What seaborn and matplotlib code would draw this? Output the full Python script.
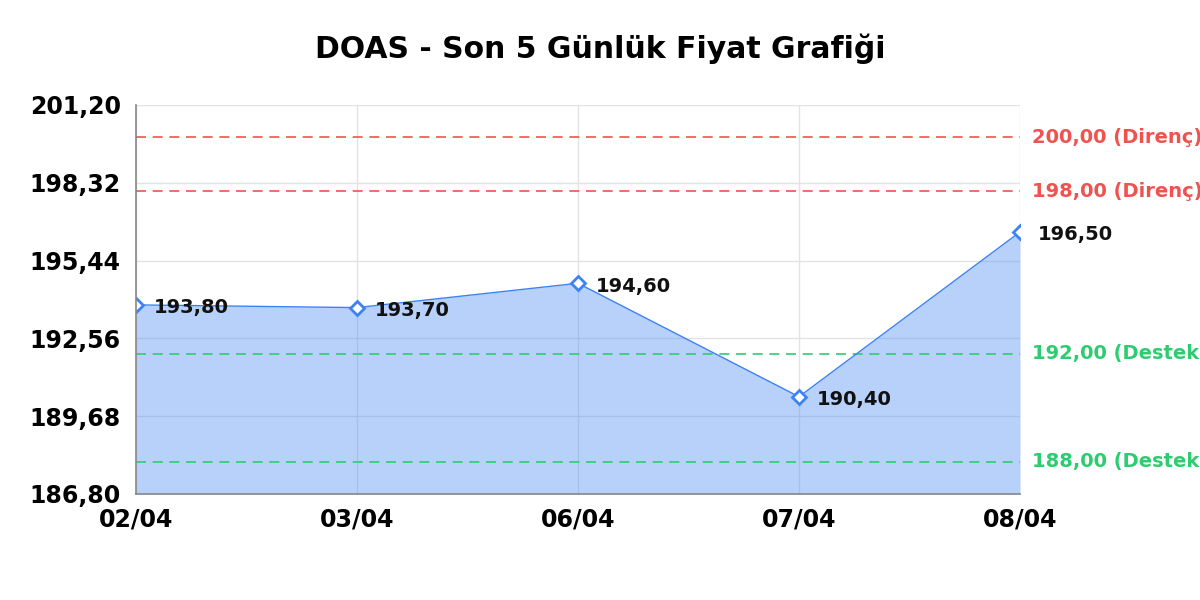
import matplotlib
matplotlib.use("Agg")
import matplotlib.pyplot as plt
import seaborn as sns
import pandas as pd
import numpy as np

dates = ["02/04", "03/04", "06/04", "07/04", "08/04"]
prices = [193.80, 193.70, 194.60, 190.40, 196.50]
resistance = [200.00, 198.00]
support = [192.00, 188.00]
y_ticks = [186.80, 189.68, 192.56, 195.44, 198.32, 201.20]
title = "DOAS - Son 5 Günlük Fiyat Grafiği"

sns.set_theme(style="white")
plt.rcParams['font.family'] = ['DejaVu Sans']
plt.rcParams['text.color'] = 'black'
plt.rcParams['xtick.color'] = 'black'
plt.rcParams['ytick.color'] = 'black'

def fmt(v):
    return f"{v:.2f}".replace(".", ",")

df = pd.DataFrame({"pos": np.arange(len(dates)), "date": dates, "price": prices})

fig = plt.figure(figsize=(12, 6), dpi=100)
ax = fig.add_axes([0.1133, 0.1767, 0.7367, 0.6483])

line_color = "#3b82f6"
ax.fill_between(df["pos"], df["price"], y_ticks[0], color=line_color, alpha=0.36, lw=0, zorder=1)
sns.lineplot(data=df, x="pos", y="price", ax=ax, color=line_color, lw=1,
             marker="D", markersize=7, markerfacecolor="white",
             markeredgecolor=line_color, markeredgewidth=2, zorder=5)

for v in resistance:
    ax.axhline(v, color="#ef5350", lw=1.2, ls=(0, (6, 4)), zorder=3)
    ax.text(1.014, v, f"{fmt(v)} (Direnç)", transform=ax.get_yaxis_transform(),
            color="#ef5350", fontsize=14, fontweight="bold", va="center", ha="left",
            clip_on=False)
for v in support:
    ax.axhline(v, color="#2ecc71", lw=1.2, ls=(0, (6, 4)), zorder=3)
    ax.text(1.014, v, f"{fmt(v)} (Destek)", transform=ax.get_yaxis_transform(),
            color="#2ecc71", fontsize=14, fontweight="bold", va="center", ha="left",
            clip_on=False)

for x, y in zip(df["pos"], df["price"]):
    ax.annotate(fmt(y), (x, y), xytext=(12.5, -2), textcoords="offset points",
                fontsize=14, fontweight="bold", color="#111111", va="center", ha="left",
                zorder=6)

ax.set_xlim(0, len(dates) - 1)
ax.set_ylim(y_ticks[0], y_ticks[-1])
ax.set_xticks(df["pos"])
ax.set_xticklabels(dates, fontsize=17, fontweight="bold")
ax.set_yticks(y_ticks)
ax.set_yticklabels([fmt(v) for v in y_ticks], fontsize=17, fontweight="bold")
ax.tick_params(axis="both", length=0)
ax.tick_params(axis="y", pad=11)
ax.tick_params(axis="x", pad=10)
ax.set_axisbelow(True)
ax.grid(True, color="#e3e3e3", lw=1)
for s in ["top", "right"]:
    ax.spines[s].set_visible(False)
for s in ["left", "bottom"]:
    ax.spines[s].set_color("#888888")
    ax.spines[s].set_linewidth(1.2)
    ax.spines[s].set_zorder(10)
ax.set_xlabel("")
ax.set_ylabel("")

fig.text(0.5, 0.918, title, ha="center", va="center", fontsize=21.5, fontweight="bold")

fig.savefig("out.png", dpi=100)
